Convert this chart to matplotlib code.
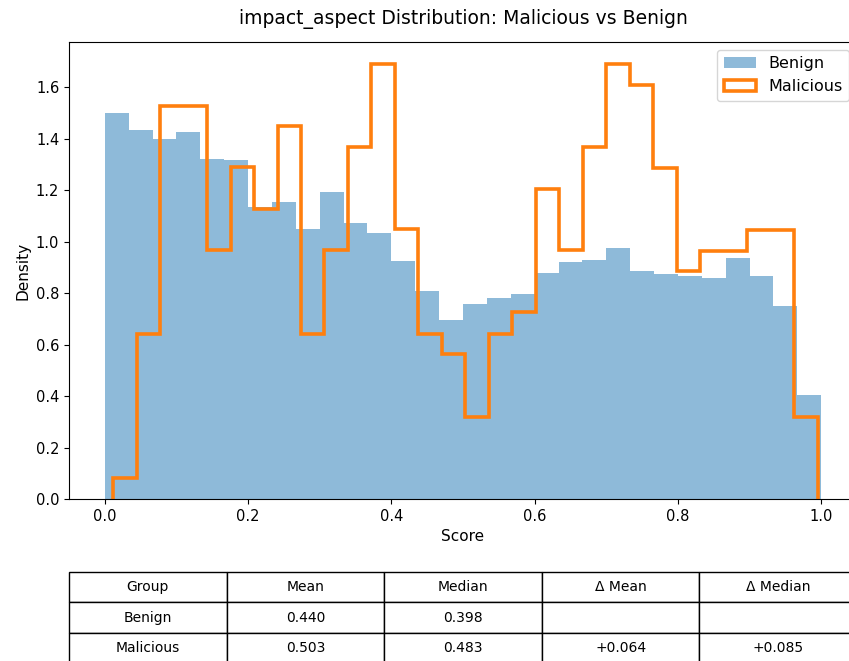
import numpy as np
import matplotlib.pyplot as plt

# densidades (30 bins cada grupo)
benign_edges = np.linspace(0.0, 1.0, 31)
benign_density = [1.500, 1.436, 1.400, 1.426, 1.320, 1.317,
                  1.136, 1.155, 1.049, 1.193, 1.074, 1.033,
                  0.926, 0.808, 0.697, 0.759, 0.781, 0.798,
                  0.877, 0.920, 0.930, 0.975, 0.886, 0.876,
                  0.865, 0.860, 0.938, 0.867, 0.752, 0.403]

malicious_edges = np.linspace(0.0116, 0.9950, 31)
malicious_density = [0.080, 0.643, 1.529, 1.529, 0.967, 1.289,
                     1.126, 1.450, 0.643, 0.967, 1.369, 1.692,
                     1.049, 0.643, 0.564, 0.319, 0.643, 0.726,
                     1.206, 0.967, 1.369, 1.692, 1.611, 1.288,
                     0.885, 0.965, 0.965, 1.046, 1.046, 0.319]

col_labels = ["Group", "Mean", "Median", "Δ Mean", "Δ Median"]
table_rows = [["Benign", "0.440", "0.398", "", ""],
              ["Malicious", "0.503", "0.483", "+0.064", "+0.085"]]

fig = plt.figure(figsize=(8.49, 6.61), dpi=100)
ax = fig.add_axes([69/849, 162/661, 788/849, 457/661])

ax.hist(benign_edges[:-1], bins=benign_edges, weights=benign_density,
        alpha=0.5, color="C0", label="Benign")
ax.hist(malicious_edges[:-1], bins=malicious_edges, weights=malicious_density,
        histtype="step", linewidth=2.6, color="C1", label="Malicious")

ax.tick_params(labelsize=10.5)
ax.set_xlabel("Score", fontsize=11)
ax.set_ylabel("Density", fontsize=11)
ax.set_title("impact_aspect Distribution: Malicious vs Benign", fontsize=13.5, pad=13)
ax.legend(loc="upper right", fontsize=11.5)

# tabla resumen debajo del eje
tbl = ax.table(cellText=table_rows, colLabels=col_labels, cellLoc="center",
               bbox=[0, -0.3589, 1, 0.1992])
tbl.auto_set_font_size(False)
tbl.set_fontsize(10)

fig.savefig("out.png", dpi=100)
